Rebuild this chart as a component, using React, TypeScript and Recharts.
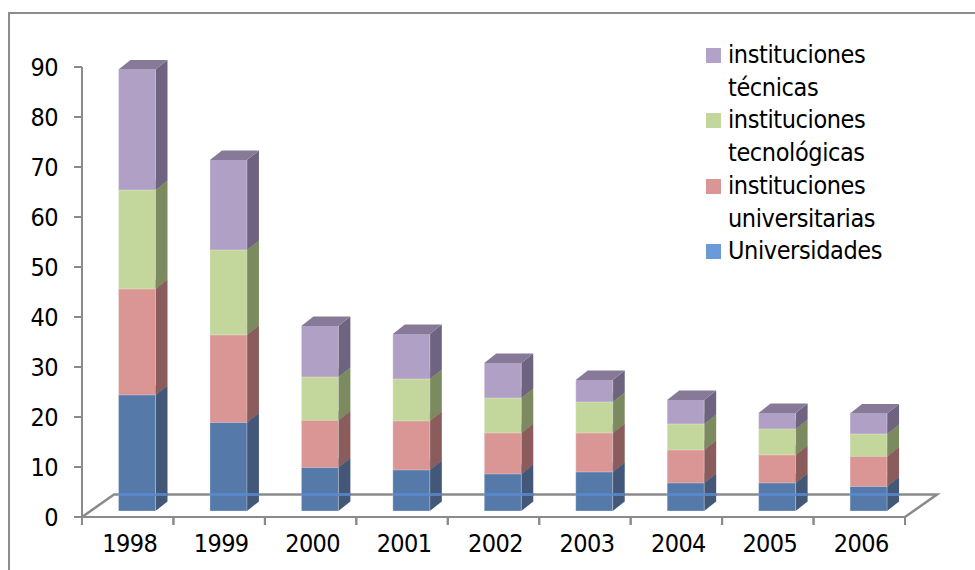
import React from 'react';
import { BarChart, Bar, XAxis, YAxis, Legend, Customized } from 'recharts';

const years = ['1998', '1999', '2000', '2001', '2002', '2003', '2004', '2005', '2006'];
const universidades = [23.2, 17.7, 8.7, 8.2, 7.4, 7.8, 5.6, 5.6, 4.9];
const universitarias = [21.2, 17.5, 9.4, 9.8, 8.2, 7.8, 6.6, 5.6, 6.0];
const tecnologicas = [19.8, 17.0, 8.7, 8.4, 7.0, 6.2, 5.2, 5.2, 4.5];
const tecnicas = [24.1, 18.0, 10.2, 9.0, 7.0, 4.4, 4.8, 3.2, 4.1];
const yTicks = [0, 10, 20, 30, 40, 50, 60, 70, 80, 90];

const data = years.map((year, i) => ({
  year,
  universidades: universidades[i],
  universitarias: universitarias[i],
  tecnologicas: tecnologicas[i],
  tecnicas: tecnicas[i],
}));

const FONT = '"DejaVu Sans Condensed", "DejaVu Sans", sans-serif';
const AXIS = '#8a8a8a';
const LABEL_STYLE = { fontSize: 25, fill: '#000', letterSpacing: -0.6 };

// chart plot box, the y axis runs 5px per unit
const PLOT_LEFT = 82;
const PLOT_RIGHT = 905;
const PLOT_TOP = 67;
const PLOT_BOTTOM = 517;
const BAND = (PLOT_RIGHT - PLOT_LEFT) / years.length;

// fake 3D: front faces sit a bit inside the floor, depth goes up and to the right
const LIFT = 6;
const SHIFT = 9.5;
const DEPTH_X = 12;
const DEPTH_Y = 9.5;
const FLOOR_X = 32;
const FLOOR_Y = 22.5;

const Box = ({ x, y, width, height, front, side, top, floorLine }: any) => {
  const l = x + SHIFT;
  const r = l + width;
  const t = y - LIFT;
  const b = t + height;
  const floorY = PLOT_BOTTOM - FLOOR_Y;
  return (
    <g>
      <rect x={l} y={t} width={width} height={height} fill={front} />
      <polygon
        points={`${r},${t} ${r + DEPTH_X},${t - DEPTH_Y} ${r + DEPTH_X},${b - DEPTH_Y} ${r},${b}`}
        fill={side}
      />
      <polygon
        points={`${l},${t} ${l + DEPTH_X},${t - DEPTH_Y} ${r + DEPTH_X},${t - DEPTH_Y} ${r},${t}`}
        fill={top}
      />
      <path d={`M${l} ${t}V${b}H${r}V${t}`} fill="none" stroke="#fff" strokeOpacity={0.3} />
      {floorLine && (
        <line x1={l} x2={r + DEPTH_X} y1={floorY} y2={floorY} stroke="#5b8bd0" strokeWidth={3} strokeOpacity={0.8} />
      )}
    </g>
  );
};

// the floor parallelogram under the bars
const Floor = () => (
  <path
    d={`M${PLOT_LEFT} ${PLOT_BOTTOM}L${PLOT_LEFT + FLOOR_X} ${PLOT_BOTTOM - FLOOR_Y}H${PLOT_RIGHT + FLOOR_X}L${PLOT_RIGHT} ${PLOT_BOTTOM}`}
    fill="none"
    stroke={AXIS}
    strokeWidth={2.5}
  />
);

// year label with tick marks on the band edges instead of the band centre
const YearTick = ({ x, y, payload }: any) => (
  <g>
    <path
      d={`M${x - BAND / 2} ${PLOT_BOTTOM}v8M${x + BAND / 2} ${PLOT_BOTTOM}v8`}
      stroke={AXIS}
      strokeWidth={2}
    />
    <text x={x + 2} y={y} dy={27} textAnchor="middle" {...LABEL_STYLE}>
      {payload.value}
    </text>
  </g>
);

const LegendList = ({ payload }: any) => (
  <div style={{ fontFamily: FONT, fontSize: 25, letterSpacing: -0.4, lineHeight: '32.7px', color: '#000' }}>
    {[...(payload || [])].reverse().map((item: any) => (
      <div key={item.value} style={{ position: 'relative', paddingLeft: 22, width: 170 }}>
        <span
          style={{
            position: 'absolute',
            left: 0,
            top: 9,
            width: 15,
            height: 15,
            background: item.color,
          }}
        />
        {item.value}
      </div>
    ))}
  </div>
);

export default function App() {
  return (
    <div
      style={{
        position: 'absolute',
        left: 0,
        top: 0,
        width: 975,
        height: 570,
        overflow: 'hidden',
        background: '#fff',
      }}
    >
      <div
        style={{
          position: 'absolute',
          left: 8,
          top: 12,
          width: 1000,
          height: 600,
          borderLeft: '2px solid #8c8c8c',
          borderTop: '2px solid #8c8c8c',
        }}
      />
      <BarChart
        width={975}
        height={570}
        data={data}
        barSize={37}
        margin={{ top: PLOT_TOP, right: 975 - PLOT_RIGHT, bottom: 0, left: 0 }}
        style={{ position: 'absolute', left: 0, top: 0, fontFamily: FONT }}
      >
        <Customized component={Floor} />
        <XAxis
          dataKey="year"
          height={570 - PLOT_BOTTOM}
          axisLine={{ stroke: AXIS, strokeWidth: 2 }}
          tickLine={false}
          interval={0}
          tick={<YearTick />}
        />
        <YAxis
          domain={[0, 90]}
          ticks={yTicks}
          width={PLOT_LEFT}
          axisLine={{ stroke: AXIS, strokeWidth: 2 }}
          tickLine={{ stroke: AXIS, strokeWidth: 2 }}
          tickSize={8}
          tickMargin={16}
          tick={LABEL_STYLE}
        />
        <Legend
          verticalAlign="middle"
          align="center"
          layout="vertical"
          itemSorter={null}
          wrapperStyle={{ position: 'absolute', left: 706, top: 39, width: 200 }}
          content={<LegendList />}
        />
        <Bar
          dataKey="universidades"
          name="Universidades"
          stackId="a"
          isAnimationActive={false}
          fill="#6a9ad8"
          shape={(p: any) => <Box {...p} front="#5579a8" side="#435878" top="#435878" floorLine />}
        />
        <Bar
          dataKey="universitarias"
          name="instituciones universitarias"
          stackId="a"
          isAnimationActive={false}
          fill="#d99694"
          shape={(p: any) => <Box {...p} front="#d99694" side="#8b5c5c" top="#8b5c5c" />}
        />
        <Bar
          dataKey="tecnologicas"
          name="instituciones tecnológicas"
          stackId="a"
          isAnimationActive={false}
          fill="#c3d69b"
          shape={(p: any) => <Box {...p} front="#c3d69b" side="#7c8a60" top="#7c8a60" />}
        />
        <Bar
          dataKey="tecnicas"
          name="instituciones técnicas"
          stackId="a"
          isAnimationActive={false}
          fill="#b3a2c7"
          shape={(p: any) => <Box {...p} front="#b0a0c6" side="#6f6480" top="#867a98" />}
        />
      </BarChart>
    </div>
  );
}
